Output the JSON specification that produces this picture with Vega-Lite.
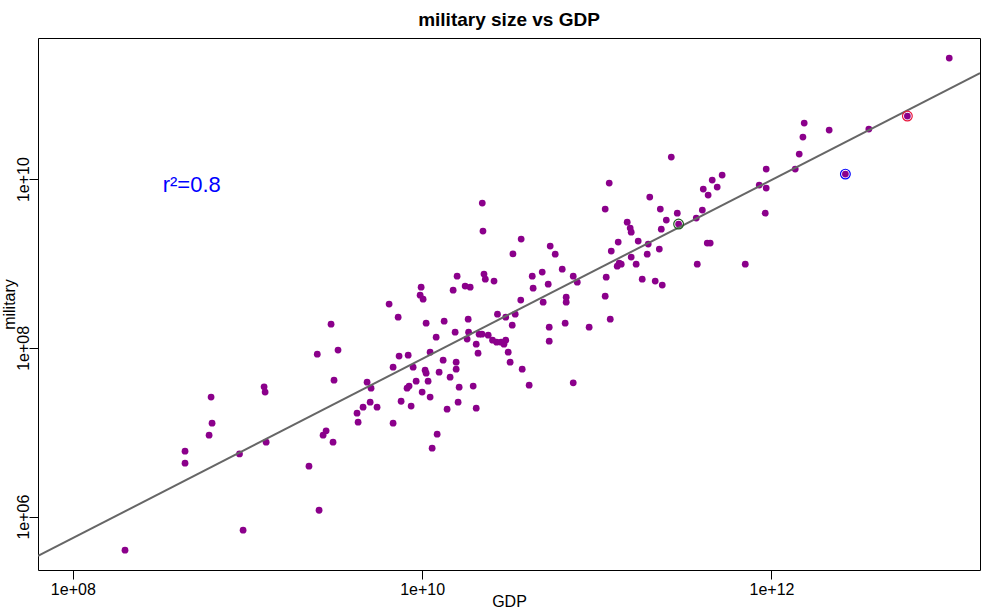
{
  "$schema": "https://vega.github.io/schema/vega-lite/v6.json",
  "width": 942,
  "height": 532,
  "autosize": "none",
  "padding": {"left": 38, "top": 38, "right": 20, "bottom": 39},
  "background": "white",
  "title": {"text": "military size vs GDP", "fontSize": 19, "fontWeight": "bold", "font": "Liberation Sans", "color": "black", "anchor": "middle", "offset": 8},
  "config": {
    "font": "Liberation Sans",
    "view": {"stroke": "black", "strokeWidth": 1},
    "axis": {"grid": false, "domain": false, "tickColor": "black", "tickSize": 9, "tickWidth": 1, "labelFontSize": 16, "labelColor": "black", "titleFontSize": 16, "titleFontWeight": "normal", "titleColor": "black", "labelFont": "Liberation Sans", "titleFont": "Liberation Sans"}
  },
  "datasets": {
    "countries": [
      {"gdp": 3.01e9, "military": 1.91e8}, {"gdp": 3.30e9, "military": 9.40e7}, {"gdp": 2.51e9, "military": 8.42e7}, {"gdp": 3.13e9, "military": 4.14e7},
      {"gdp": 6.19e8, "military": 2.61e7}, {"gdp": 1.245e9, "military": 3.45e7}, {"gdp": 1.262e9, "military": 2.99e7}, {"gdp": 6.27e8, "military": 1.28e7},
      {"gdp": 6.03e8, "military": 9.23e6}, {"gdp": 4.39e8, "military": 5.96e6}, {"gdp": 4.39e8, "military": 4.30e6}, {"gdp": 9.0e8, "military": 5.54e6},
      {"gdp": 1.279e9, "military": 7.62e6}, {"gdp": 2.82e9, "military": 1.038e7}, {"gdp": 2.71e9, "military": 9.23e6}, {"gdp": 3.09e9, "military": 7.62e6},
      {"gdp": 2.25e9, "military": 3.96e6}, {"gdp": 2.57e9, "military": 1.19e6}, {"gdp": 9.44e8, "military": 6.90e5}, {"gdp": 1.99e8, "military": 4.00e5},
      {"gdp": 2.21e10, "military": 5.20e9}, {"gdp": 2.23e10, "military": 2.42e9}, {"gdp": 3.69e10, "military": 1.944e9}, {"gdp": 3.31e10, "military": 1.302e9},
      {"gdp": 5.41e10, "military": 1.606e9}, {"gdp": 5.78e10, "military": 1.29e9}, {"gdp": 6.34e10, "military": 8.57e8}, {"gdp": 7.33e10, "military": 7.08e8},
      {"gdp": 7.73e10, "military": 6.01e8}, {"gdp": 4.27e10, "military": 7.08e8}, {"gdp": 4.87e10, "military": 7.90e8}, {"gdp": 4.32e10, "military": 5.10e8},
      {"gdp": 5.27e10, "military": 5.69e8}, {"gdp": 3.67e10, "military": 3.68e8}, {"gdp": 4.93e10, "military": 3.48e8}, {"gdp": 6.68e10, "military": 3.99e8},
      {"gdp": 6.68e10, "military": 3.48e8}, {"gdp": 6.59e10, "military": 1.963e8}, {"gdp": 5.34e10, "military": 1.76e8}, {"gdp": 5.34e10, "military": 1.201e8},
      {"gdp": 7.33e10, "military": 3.85e7}, {"gdp": 4.10e10, "military": 3.61e7}, {"gdp": 3.74e10, "military": 5.59e7}, {"gdp": 3.19e10, "military": 6.77e7},
      {"gdp": 3.11e10, "military": 8.89e7}, {"gdp": 3.01e10, "military": 1.234e8}, {"gdp": 2.94e10, "military": 1.107e8}, {"gdp": 2.83e10, "military": 1.168e8},
      {"gdp": 2.67e10, "military": 1.168e8}, {"gdp": 2.53e10, "military": 1.234e8}, {"gdp": 2.39e10, "military": 1.414e8}, {"gdp": 2.20e10, "military": 1.454e8},
      {"gdp": 2.12e10, "military": 1.454e8}, {"gdp": 1.845e10, "military": 1.536e8}, {"gdp": 1.81e10, "military": 1.269e8}, {"gdp": 2.04e10, "military": 1.107e8},
      {"gdp": 2.09e10, "military": 8.65e7}, {"gdp": 2.70e10, "military": 2.51e8}, {"gdp": 3.01e10, "military": 2.31e8}, {"gdp": 3.41e10, "military": 2.51e8},
      {"gdp": 3.28e10, "military": 1.859e8}, {"gdp": 1.835e10, "military": 2.19e8}, {"gdp": 1.545e10, "military": 1.536e8}, {"gdp": 1.337e10, "military": 2.07e8},
      {"gdp": 1.203e10, "military": 1.339e8}, {"gdp": 1.054e10, "military": 1.963e8}, {"gdp": 1.111e10, "military": 8.89e7}, {"gdp": 1.319e10, "military": 7.15e7},
      {"gdp": 1.566e10, "military": 6.77e7}, {"gdp": 1.566e10, "military": 5.59e7}, {"gdp": 1.251e10, "military": 5.15e7}, {"gdp": 1.446e10, "military": 4.49e7},
      {"gdp": 1.629e10, "military": 3.42e7}, {"gdp": 1.96e10, "military": 3.52e7}, {"gdp": 1.607e10, "military": 2.27e7}, {"gdp": 2.04e10, "military": 1.929e7},
      {"gdp": 1.39e10, "military": 1.877e7}, {"gdp": 1.219e10, "military": 9.48e6}, {"gdp": 1.141e10, "military": 6.47e6}, {"gdp": 1.586e10, "military": 7.08e8},
      {"gdp": 1.505e10, "military": 4.83e8}, {"gdp": 1.763e10, "military": 5.39e8}, {"gdp": 1.884e10, "military": 5.24e8}, {"gdp": 2.26e10, "military": 7.48e8},
      {"gdp": 2.30e10, "military": 6.52e8}, {"gdp": 2.58e10, "military": 6.18e8}, {"gdp": 9.87e9, "military": 5.24e8}, {"gdp": 9.74e9, "military": 4.21e8},
      {"gdp": 1.013e10, "military": 3.78e8}, {"gdp": 6.47e9, "military": 3.30e8}, {"gdp": 7.29e9, "military": 2.31e8}, {"gdp": 7.38e9, "military": 7.98e7},
      {"gdp": 8.32e9, "military": 8.19e7}, {"gdp": 6.82e9, "military": 5.91e7}, {"gdp": 8.88e9, "military": 5.91e7}, {"gdp": 1.04e10, "military": 5.44e7},
      {"gdp": 1.054e10, "military": 5.01e7}, {"gdp": 9.24e9, "military": 4.03e7}, {"gdp": 1.082e10, "military": 4.03e7}, {"gdp": 8.42e9, "military": 3.52e7},
      {"gdp": 8.20e9, "military": 3.33e7}, {"gdp": 1.0e10, "military": 2.99e7}, {"gdp": 1.111e10, "military": 2.61e7}, {"gdp": 7.58e9, "military": 2.33e7},
      {"gdp": 8.65e9, "military": 2.04e7}, {"gdp": 4.84e9, "military": 3.92e7}, {"gdp": 5.10e9, "military": 3.33e7}, {"gdp": 5.04e9, "military": 2.27e7},
      {"gdp": 5.52e9, "military": 1.982e7}, {"gdp": 4.59e9, "military": 1.982e7}, {"gdp": 4.24e9, "military": 1.682e7}, {"gdp": 4.30e9, "military": 1.316e7},
      {"gdp": 6.82e9, "military": 1.28e7}, {"gdp": 2.67e11, "military": 1.823e10}, {"gdp": 1.178e11, "military": 8.97e9}, {"gdp": 1.117e11, "military": 4.41e9},
      {"gdp": 2.01e11, "military": 6.12e9}, {"gdp": 2.31e11, "military": 4.41e9}, {"gdp": 2.89e11, "military": 3.95e9}, {"gdp": 2.50e11, "military": 3.27e9},
      {"gdp": 2.94e11, "military": 2.93e9}, {"gdp": 2.34e11, "military": 2.55e9}, {"gdp": 1.493e11, "military": 3.09e9}, {"gdp": 1.553e11, "military": 2.63e9},
      {"gdp": 1.574e11, "military": 2.35e9}, {"gdp": 1.726e11, "military": 1.841e9}, {"gdp": 1.326e11, "military": 1.791e9}, {"gdp": 1.21e11, "military": 1.401e9},
      {"gdp": 1.97e11, "military": 1.696e9}, {"gdp": 1.944e11, "military": 1.29e9}, {"gdp": 2.28e11, "military": 1.48e9}, {"gdp": 1.574e11, "military": 1.19e9},
      {"gdp": 1.343e11, "military": 1.01e9}, {"gdp": 1.309e11, "military": 9.30e8}, {"gdp": 1.38e11, "military": 9.82e8}, {"gdp": 1.68e11, "military": 9.82e8},
      {"gdp": 1.132e11, "military": 6.89e8}, {"gdp": 1.82e11, "military": 6.52e8}, {"gdp": 2.16e11, "military": 6.18e8}, {"gdp": 2.37e11, "military": 5.54e8},
      {"gdp": 1.117e11, "military": 4.10e8}, {"gdp": 1.194e11, "military": 2.19e8}, {"gdp": 9.04e10, "military": 1.76e8}, {"gdp": 4.07e11, "military": 7.61e9},
      {"gdp": 4.58e11, "military": 9.73e9}, {"gdp": 5.22e11, "military": 1.115e10}, {"gdp": 4.89e11, "military": 8.04e9}, {"gdp": 4.34e11, "military": 6.46e9},
      {"gdp": 4.02e11, "military": 4.29e9}, {"gdp": 3.71e11, "military": 3.45e9}, {"gdp": 4.29e11, "military": 1.743e9}, {"gdp": 4.46e11, "military": 1.743e9},
      {"gdp": 3.76e11, "military": 9.82e8}, {"gdp": 7.08e11, "military": 9.82e8}, {"gdp": 9.33e11, "military": 1.314e10}, {"gdp": 8.51e11, "military": 8.49e9},
      {"gdp": 9.33e11, "military": 7.82e9}, {"gdp": 9.21e11, "military": 3.95e9}, {"gdp": 1.042e13, "military": 2.72e11}, {"gdp": 1.54e12, "military": 4.61e10},
      {"gdp": 2.14e12, "military": 3.81e10}, {"gdp": 1.514e12, "military": 3.15e10}, {"gdp": 1.442e12, "military": 1.978e10}, {"gdp": 1.368e12, "military": 1.314e10},
      {"gdp": 3.61e12, "military": 3.92e10}, {"gdp": 6.0e12, "military": 5.58e10}, {"gdp": 2.65e12, "military": 1.146e10}
    ],
    "fit": [
      {"gdp": 6.32e7, "military": 3.42e5},
      {"gdp": 1.563e13, "military": 1.807e11}
    ],
    "highlight": [
      {"gdp": 2.94e11, "military": 2.93e9, "group": "first"},
      {"gdp": 6.0e12, "military": 5.58e10, "group": "second"},
      {"gdp": 2.65e12, "military": 1.146e10, "group": "third"}
    ],
    "note": [
      {"gdp": 3.27e8, "military": 6.97e9, "label": "r²=0.8"}
    ]
  },
  "encoding": {
    "x": {
      "field": "gdp", "type": "quantitative",
      "scale": {"type": "log", "domain": [6.32e7, 1.563e13], "nice": false, "zero": false},
      "axis": {"title": "GDP", "values": [1e8, 1e10, 1e12], "labelExpr": "datum.value < 1e9 ? '1e+0' + round(log(datum.value)/LN10) : '1e+' + round(log(datum.value)/LN10)", "labelPadding": 2, "labelFlush": false, "titleX": 471, "titleY": 36.5, "titleBaseline": "alphabetic", "titleAnchor": null}
    },
    "y": {
      "field": "military", "type": "quantitative",
      "scale": {"type": "log", "domain": [2.33e5, 4.70e11], "nice": false, "zero": false},
      "axis": {"title": "military", "values": [1e6, 1e8, 1e10], "labelExpr": "datum.value < 1e9 ? '1e+0' + round(log(datum.value)/LN10) : '1e+' + round(log(datum.value)/LN10)", "labelAngle": -90, "labelAlign": "center", "labelBaseline": "alphabetic", "labelPadding": 1, "labelFlush": false, "titleAngle": -90, "titleX": -24, "titleY": 266, "titleAlign": "center", "titleBaseline": "alphabetic"}
    }
  },
  "layer": [
    {
      "data": {"name": "countries"},
      "mark": {"type": "point", "shape": "circle", "filled": true, "size": 46, "color": "#8B008B", "opacity": 1, "strokeWidth": 0}
    },
    {
      "data": {"name": "fit"},
      "mark": {"type": "line", "color": "#666666", "strokeWidth": 2, "clip": true}
    },
    {
      "data": {"name": "highlight"},
      "mark": {"type": "point", "shape": "circle", "filled": false, "size": 95, "strokeWidth": 1.2, "opacity": 1},
      "encoding": {
        "color": {"field": "group", "type": "nominal", "scale": {"domain": ["first", "second", "third"], "range": ["#1E5E1E", "#E8173C", "#0000FF"]}, "legend": null}
      }
    },
    {
      "data": {"name": "note"},
      "mark": {"type": "text", "align": "left", "baseline": "alphabetic", "fontSize": 22, "color": "#0000FF", "font": "Liberation Sans"},
      "encoding": {"text": {"field": "label", "type": "nominal"}}
    }
  ]
}
